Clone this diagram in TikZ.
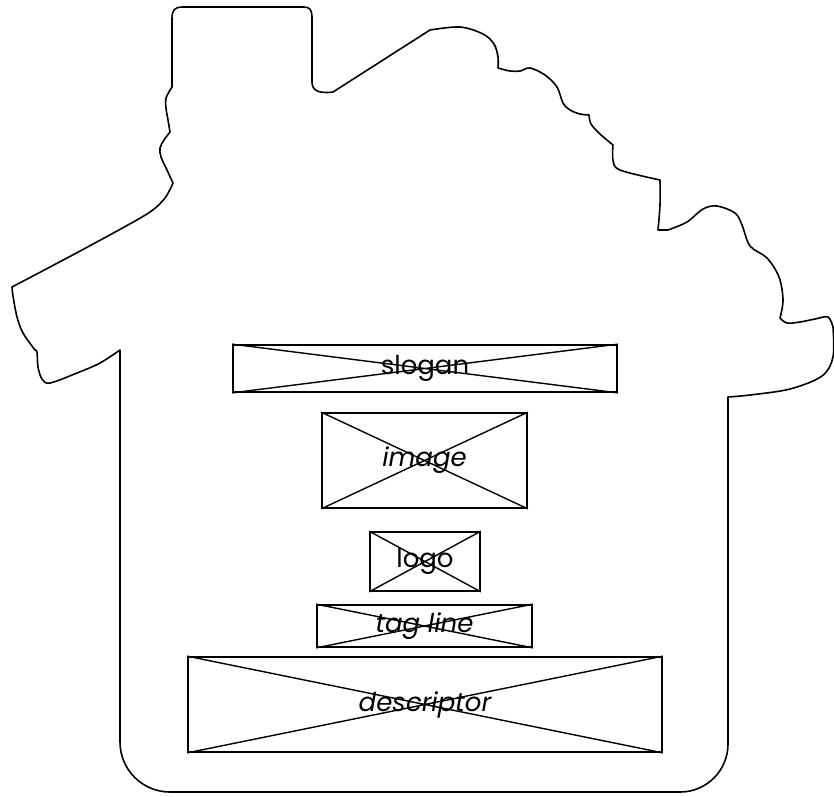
\documentclass[tikz,border=0pt]{standalone}
\usepackage{fontspec}
\setmainfont{Poppins}
\newcommand{\lowr}[1]{\raisebox{-3.5pt}{#1}}
\begin{document}
\begin{tikzpicture}[x=1pt,y=-1pt,
  outline/.style={line width=1.6pt, line join=round, line cap=round},
  wbox/.style={draw, line width=1.7pt, inner sep=0pt, font=\fontsize{26}{30}\selectfont},
  xline/.style={line width=1.4pt}]
\useasboundingbox[fill=white] (0,0) rectangle (834,796);
% house outline
\draw[outline]
  (172,87) -- (172,18) .. controls (172,10) and (175,7) .. (182,7) -- (304,7)
  .. controls (310,7) and (312,10) .. (312,18) -- (312,82)
  .. controls (312,90) and (318,94) .. (333,92) -- (430,30)
  -- plot[smooth,tension=0.55] coordinates {(430,30) (460,27) (483,34) (494,44) (498,57) (498,68)}
  -- plot[smooth,tension=0.55] coordinates {(498,68) (510,71) (520,71) (530,68) (545,75) (557,87) (563,103) (570,110) (580,114) (589,115)}
  -- plot[smooth,tension=0.55] coordinates {(589,115) (591,124) (600,134) (613,145)}
  -- plot[smooth,tension=0.55] coordinates {(613,145) (613,160) (620,170) (660,180)}
  -- plot[smooth,tension=0.55] coordinates {(660,180) (660,205) (658,230)}
  -- (668,230)
  -- plot[smooth,tension=0.55] coordinates {(668,230) (687,222) (703,209) (717,206) (735,213) (742,225) (750,246) (767,258) (779,277) (783,300) (780,318)}
  -- plot[smooth,tension=0.55] coordinates {(780,318) (787,323) (800,322) (815,319) (828,317) (833,327)}
  -- plot[smooth,tension=0.55] coordinates {(833,327) (833,357) (822,376) (790,389) (750,395) (728,397)}
  -- (728,744) .. controls (728,770.5) and (706.5,792) .. (680,792)
  -- (170,792) .. controls (142.4,792) and (120,769.6) .. (120,742)
  -- (120,350)
  -- plot[smooth,tension=0.55] coordinates {(120,350) (100,363) (77,373) (50,383) (42,379) (38,367) (37,352) (35,350)}
  -- plot[smooth,tension=0.55] coordinates {(35,350) (23,333) (17,317) (13,296) (12,287)}
  -- plot[smooth,tension=0.55] coordinates {(12,287) (67,258) (117,231) (150,212) (165,198) (173,183)}
  -- plot[smooth,tension=0.55] coordinates {(173,183) (167,170) (161,157) (160,148) (164,140) (170,132)}
  -- plot[smooth,tension=0.55] coordinates {(170,132) (168,120) (166,108) (166,98) (172,87)}
  -- cycle;
% placeholder boxes
\node[wbox, minimum width=384pt, minimum height=47pt] (slogan) at (425,368.5) {\lowr{slogan}};
\node[wbox, minimum width=205pt, minimum height=95pt] (image) at (424.5,460.5) {\lowr{\itshape image}};
\node[wbox, minimum width=110pt, minimum height=59pt] (logo) at (425,561.5) {\lowr{logo}};
\node[wbox, minimum width=215pt, minimum height=42pt] (tagline) at (424.5,626) {\lowr{\itshape tag line}};
\node[wbox, minimum width=474pt, minimum height=95pt] (descriptor) at (425,704.5) {\lowr{\itshape descriptor}};
\foreach \n in {slogan,image,logo,tagline,descriptor}{
  \draw[xline] (\n.north west) -- (\n.south east) (\n.north east) -- (\n.south west);
}
\end{tikzpicture}
\end{document}
